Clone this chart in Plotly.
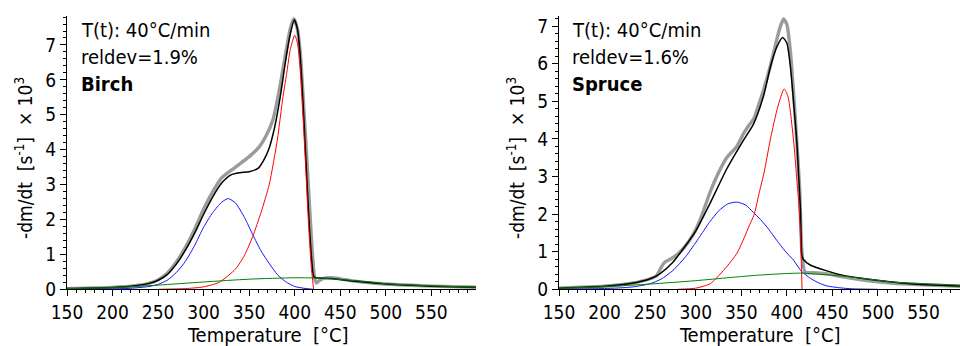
import plotly.graph_objects as go

W, H = 960, 346
FONT = "DejaVu Sans Condensed, Liberation Sans, sans-serif"

# ---------------- Birch (left panel) ----------------
birch_meas_T = [150, 200, 225, 240, 250, 260, 270, 280, 287, 295, 300, 310, 320, 335, 350, 361, 368, 376, 383, 390,
                395, 399, 403, 406, 409, 412, 415, 418, 420, 422, 424, 427, 432, 440, 450, 470, 500, 550, 600]
birch_meas = [0.02, 0.05, 0.10, 0.17, 0.27, 0.46, 0.78, 1.20, 1.55, 2.00, 2.30, 2.80, 3.20, 3.50, 3.80, 4.08, 4.37, 4.85,
              5.70, 6.75, 7.45, 7.75, 7.45, 6.80, 5.60, 4.30, 2.95, 1.60, 0.80, 0.30, 0.18, 0.25, 0.31, 0.33, 0.30,
              0.22, 0.15, 0.09, 0.06]

birch_fit_T = [150, 200, 225, 240, 250, 260, 270, 280, 290, 300, 310, 320, 330, 340, 350, 360, 366, 372, 378, 384, 390,
               395, 399.6, 403, 406, 409, 412, 415, 418, 420.7, 423, 430, 440, 450, 470, 500, 550, 600]
birch_fit = [0.02, 0.05, 0.10, 0.17, 0.26, 0.42, 0.72, 1.12, 1.60, 2.15, 2.65, 3.05, 3.28, 3.34, 3.37, 3.47, 3.70, 4.05,
             4.65, 5.50, 6.55, 7.30, 7.72, 7.45, 6.70, 5.40, 3.85, 2.30, 1.05, 0.38, 0.33, 0.32, 0.31, 0.28, 0.22, 0.15,
             0.09, 0.06]

birch_c1_T = [150, 200, 220, 240, 250, 260, 270, 280, 290, 300, 310, 320, 327, 335, 345, 354, 363, 372, 381, 390, 400,
              410, 420]
birch_c1 = [0.0, 0.01, 0.03, 0.08, 0.14, 0.26, 0.48, 0.80, 1.25, 1.78, 2.20, 2.50, 2.60, 2.47, 2.05, 1.56, 1.10, 0.74,
            0.42, 0.22, 0.08, 0.03, 0.0]

birch_c2_T = [250, 280, 300, 317, 335, 345, 354, 363, 372, 381, 387, 391, 395, 400, 403, 406, 409, 412, 415, 418, 420.7]
birch_c2 = [0.0, 0.02, 0.07, 0.20, 0.58, 0.98, 1.52, 2.20, 3.00, 4.30, 5.50, 6.15, 6.85, 7.28, 7.05, 6.30, 5.00, 3.50,
            1.95, 0.70, 0.0]

birch_c3_T = [150, 200, 250, 300, 350, 400, 430, 450, 480, 500, 550, 600]
birch_c3 = [0.02, 0.05, 0.12, 0.21, 0.29, 0.33, 0.32, 0.28, 0.22, 0.16, 0.10, 0.06]

# ---------------- Spruce (right panel) ----------------
spruce_meas_T = [150, 200, 230, 250, 257, 262, 266, 272, 280, 287, 297, 305, 316, 325, 334, 345, 352, 358, 364, 369,
                 375, 382, 389, 393, 396.5, 400, 404, 408, 411, 414, 416.5, 420, 430, 444, 462, 480, 517, 550, 590]
spruce_meas = [0.03, 0.08, 0.16, 0.28, 0.36, 0.58, 0.72, 0.80, 0.93, 1.10, 1.45, 1.85, 2.60, 3.10, 3.50, 3.80, 4.12,
               4.35, 4.55, 4.90, 5.35, 5.95, 6.65, 7.00, 7.19, 7.05, 6.30, 5.00, 3.90, 2.70, 1.00, 0.46, 0.44, 0.41,
               0.33, 0.26, 0.16, 0.12, 0.08]

spruce_fit_T = [150, 200, 230, 250, 261, 275, 290, 300, 316, 334, 352, 363.5, 374.5, 382, 389, 395.4, 400, 404, 408,
                411, 413, 415, 416.5, 418, 426, 444, 462, 480, 499, 535, 590]
spruce_fit = [0.03, 0.08, 0.16, 0.28, 0.42, 0.72, 1.20, 1.55, 2.30, 3.20, 3.95, 4.40, 5.15, 5.92, 6.45, 6.70, 6.55,
              5.90, 4.80, 3.90, 3.00, 2.10, 0.90, 0.80, 0.64, 0.49, 0.37, 0.30, 0.24, 0.15, 0.09]

spruce_c1_T = [150, 200, 230, 250, 262, 275, 290, 303, 315, 325, 335, 345, 355, 363, 371, 380, 389, 398, 407.5, 416,
               426, 435, 444, 462, 475, 500]
spruce_c1 = [0.0, 0.02, 0.06, 0.15, 0.27, 0.50, 0.90, 1.35, 1.78, 2.08, 2.27, 2.32, 2.24, 2.05, 1.86, 1.60, 1.30, 1.02,
             0.77, 0.48, 0.29, 0.17, 0.09, 0.03, 0.01, 0.0]

spruce_c2_T = [280, 300, 316, 334, 345, 352, 358, 364, 370, 375, 382, 390, 397, 401, 404, 408, 411, 413, 415, 416.7]
spruce_c2 = [0.0, 0.03, 0.15, 0.60, 0.95, 1.30, 1.65, 1.98, 2.60, 3.10, 4.00, 4.85, 5.33, 5.15, 4.70, 3.80, 2.90, 2.30,
             1.40, 0.0]

spruce_c3_T = [150, 200, 250, 300, 350, 371, 400, 415, 430, 462, 490, 517, 550, 590]
spruce_c3 = [0.03, 0.07, 0.14, 0.23, 0.34, 0.38, 0.42, 0.43, 0.41, 0.35, 0.27, 0.19, 0.15, 0.11]

# ---------------- figure ----------------
fig = go.Figure()

def add_panel(xa, ya, meas, fit, c1, c2, c3):
    common = dict(xaxis=xa, yaxis=ya, mode="lines", showlegend=False, hoverinfo="skip")
    fig.add_trace(go.Scatter(x=meas[0], y=meas[1], line=dict(color="rgb(155,155,155)", width=3.4,
                                                             shape="spline", smoothing=0.6), **common))
    fig.add_trace(go.Scatter(x=fit[0], y=fit[1], line=dict(color="black", width=1.5,
                                                           shape="spline", smoothing=0.6), **common))
    fig.add_trace(go.Scatter(x=c1[0], y=c1[1], line=dict(color="rgb(20,20,255)", width=1,
                                                         shape="spline", smoothing=0.6), **common))
    fig.add_trace(go.Scatter(x=c2[0], y=c2[1], line=dict(color="rgb(255,0,0)", width=1,
                                                         shape="spline", smoothing=0.6), **common))
    fig.add_trace(go.Scatter(x=c3[0], y=c3[1], line=dict(color="rgb(0,130,0)", width=1,
                                                         shape="spline", smoothing=0.6), **common))

add_panel("x", "y", (birch_meas_T, birch_meas), (birch_fit_T, birch_fit), (birch_c1_T, birch_c1),
          (birch_c2_T, birch_c2), (birch_c3_T, birch_c3))
add_panel("x2", "y2", (spruce_meas_T, spruce_meas), (spruce_fit_T, spruce_fit), (spruce_c1_T, spruce_c1),
          (spruce_c2_T, spruce_c2), (spruce_c3_T, spruce_c3))

ydom = [1 - 289.3 / H, 1 - 16 / H]
tickfont = dict(family=FONT, size=19, color="black")

def xaxis(dom, rng, anchor):
    return dict(domain=dom, range=rng, anchor=anchor, tick0=150, dtick=50, ticks="outside", ticklen=6, tickwidth=1,
                tickcolor="black", showline=True, linecolor="black", linewidth=1, showgrid=False,
                zeroline=False, tickfont=tickfont, automargin=False,
                minor=dict(dtick=10, tick0=150, ticks="outside", ticklen=3, tickcolor="black", showgrid=False))

def yaxis(anchor, rng):
    return dict(domain=ydom, range=rng, anchor=anchor, tick0=0, dtick=1, ticks="outside", ticklen=6,
                tickwidth=1, tickcolor="black", showline=True, linecolor="black", linewidth=1, showgrid=False,
                zeroline=False, tickfont=tickfont, automargin=False,
                minor=dict(dtick=0.2, ticks="outside", ticklen=3, tickcolor="black", showgrid=False))

fig.update_layout(
    width=W, height=H, margin=dict(l=0, r=0, t=0, b=0),
    paper_bgcolor="white", plot_bgcolor="white",
    xaxis=xaxis([67 / W, 476 / W], [150, 599], "y"),
    yaxis=yaxis("x", [0, 7.83]),
    xaxis2=xaxis([559 / W, 1.0], [150, 590], "y2"),
    yaxis2=yaxis("x2", [0, 7.27]),
)

def px(xp, yp):
    return xp / W, 1 - yp / H

ann = []
labels = [("T(t): 40°C/min", "reldev=1.9%", "<b>Birch</b>", 79),
          ("T(t): 40°C/min", "reldev=1.6%", "<b>Spruce</b>", 570)]
for l1, l2, l3, x0 in labels:
    for i, t in enumerate([l1, l2, l3]):
        xx, yy = px(x0, 30 + 27 * i)
        ann.append(dict(text=t, x=xx, y=yy, xref="paper", yref="paper", xanchor="left", yanchor="middle",
                        showarrow=False, font=dict(family=FONT, size=20, color="black")))

ytitle = "-dm/dt\u00a0\u00a0[s<sup>-1</sup>]\u00a0\u00a0×\u00a010<sup>3</sup>"
for xc in (24, 516):
    xx, yy = px(xc, 158)
    ann.append(dict(text=ytitle, x=xx, y=yy, xref="paper", yref="paper", xanchor="center", yanchor="middle",
                    textangle=-90, showarrow=False, font=dict(family=FONT, size=19, color="black")))

for xc in (268, 760):
    xx, yy = px(xc, 335)
    ann.append(dict(text="Temperature\u00a0\u00a0[°C]", x=xx, y=yy, xref="paper", yref="paper",
                    xanchor="center", yanchor="middle", showarrow=False,
                    font=dict(family=FONT, size=20, color="black")))

fig.update_layout(annotations=ann)
fig.write_html("out.html")
